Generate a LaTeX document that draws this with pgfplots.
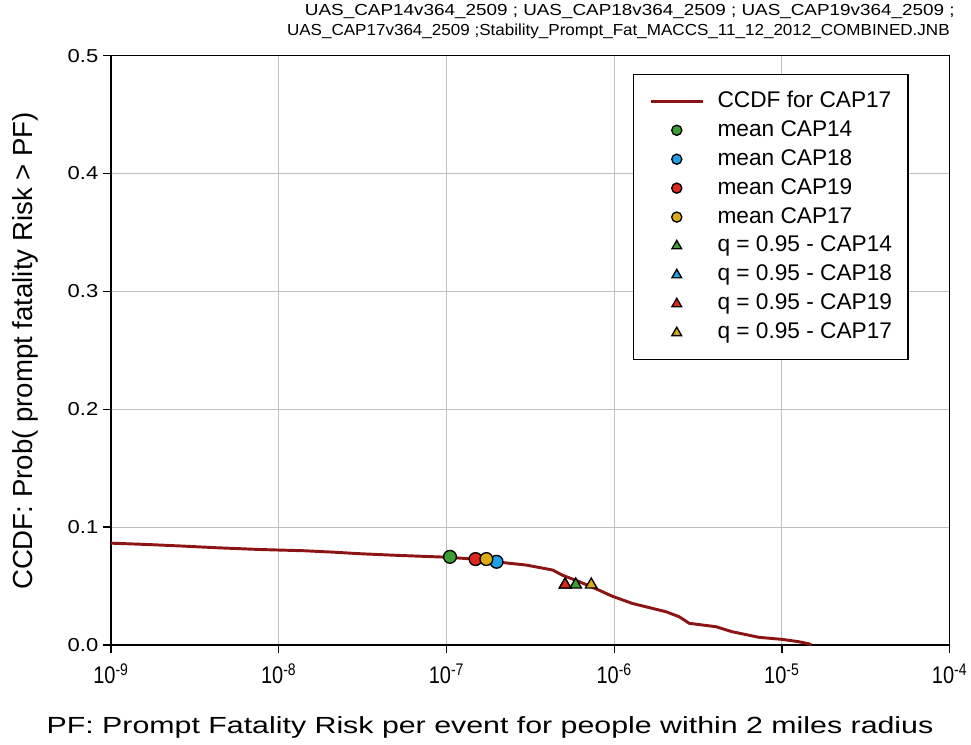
\documentclass[border=0pt]{standalone}
\usepackage{fontspec}
\setmainfont{Liberation Sans}
\usepackage{pgfplots}
\pgfplotsset{compat=1.18}
\definecolor{ccdf}{RGB}{140,20,20}
\definecolor{cgreen}{RGB}{60,160,50}
\definecolor{cblue}{RGB}{30,160,230}
\definecolor{cred}{RGB}{220,40,30}
\definecolor{cgold}{RGB}{220,170,20}
\begin{document}
\begin{tikzpicture}[x=0.75pt,y=0.75pt]
\begin{axis}[
  scale only axis,
  width=629pt, height=442pt,
  at={(0,0)}, anchor=south west,
  xmode=log,
  xmin=1e-9, xmax=1e-4,
  ymin=0, ymax=0.5,
  xtick={1e-9,1e-8,1e-7,1e-6,1e-5,1e-4},
  xticklabels={10\textsuperscript{-9},10\textsuperscript{-8},10\textsuperscript{-7},10\textsuperscript{-6},10\textsuperscript{-5},10\textsuperscript{-4}},
  xminorticks=false,
  ytick={0,0.1,0.2,0.3,0.4,0.5},
  yticklabel style={/pgf/number format/fixed,/pgf/number format/fixed zerofill,/pgf/number format/precision=1,
    font=\fontsize{16.5}{18}\selectfont, yscale=0.85},
  xticklabel style={font=\fontsize{15}{18}\selectfont, yscale=1.2, yshift=-3pt},
  /pgf/number format/assume math mode=true,
  tick align=outside, xtick pos=bottom, ytick pos=left,
  major tick length=6pt,
  grid=major,
  major grid style={gray!50, line width=0.7pt},
  axis line style={line width=1.2pt},
  every tick/.style={black, line width=1pt},
  legend style={at={(0.622,0.969)}, anchor=north west, draw=black, line width=1pt,
    font=\fontsize{17}{20}\selectfont, row sep=5.6pt, column sep=10pt,
    inner xsep=12pt, inner ysep=12pt,
    nodes={inner sep=0pt, text height=12.5pt, text depth=3.6pt}},
  legend cell align=left,
  legend image code/.code={\draw[mark repeat=2,mark phase=2,#1] plot coordinates {(0pt,0pt) (19.5pt,0pt) (39pt,0pt)};},
]
\addplot[ccdf, line width=2.2pt, mark=none] coordinates {
(1e-9,0.0864) (1.7e-9,0.0852) (2.8e-9,0.0838) (4.3e-9,0.0825) (7.8e-9,0.0810)
(1.4e-8,0.0800) (2.1e-8,0.0788) (3.0e-8,0.0775) (5.2e-8,0.0760) (1.0e-7,0.0745)
(1.5e-7,0.0728) (2.15e-7,0.0700) (3.0e-7,0.0678) (4.3e-7,0.0636) (4.9e-7,0.0593)
(6.2e-7,0.0537) (8.1e-7,0.0466) (9.7e-7,0.0415) (1.28e-6,0.0353) (2.04e-6,0.0282)
(2.44e-6,0.0240) (2.8e-6,0.0184) (4.05e-6,0.0155) (5.04e-6,0.0113) (7.3e-6,0.0065)
(1.0e-5,0.0048) (1.26e-5,0.0028) (1.45e-5,0.0010) (1.5e-5,0.0)};
\addlegendentry{CCDF for CAP17}
\addplot[only marks, mark=*, mark size=4.8pt, mark options={fill=cgreen, draw=black, line width=1pt}, legend image post style={mark size=3.8pt}] coordinates {(1.05e-7,0.0748)};
\addlegendentry{mean CAP14}
\addplot[only marks, mark=*, mark size=4.8pt, mark options={fill=cblue, draw=black, line width=1pt}, legend image post style={mark size=3.8pt}] coordinates {(1.99e-7,0.0706)};
\addlegendentry{mean CAP18}
\addplot[only marks, mark=*, mark size=4.8pt, mark options={fill=cred, draw=black, line width=1pt}, legend image post style={mark size=3.8pt}] coordinates {(1.49e-7,0.0729)};
\addlegendentry{mean CAP19}
\addplot[only marks, mark=*, mark size=4.8pt, mark options={fill=cgold, draw=black, line width=1pt}, legend image post style={mark size=3.8pt}] coordinates {(1.73e-7,0.0729)};
\addlegendentry{mean CAP17}
\addplot[only marks, mark=triangle*, mark size=5pt, mark options={fill=cgreen, draw=black, line width=1pt}, legend image post style={mark size=4.2pt}] coordinates {(5.9e-7,0.0512)};
\addlegendentry{q = 0.95 - CAP14}
\addplot[only marks, mark=triangle*, mark size=5pt, mark options={fill=cblue, draw=black, line width=1pt}, legend image post style={mark size=4.2pt}] coordinates {(5.1e-7,0.0512)};
\addlegendentry{q = 0.95 - CAP18}
\addplot[only marks, mark=triangle*, mark size=5pt, mark options={fill=cred, draw=black, line width=1pt}, legend image post style={mark size=4.2pt}] coordinates {(5.1e-7,0.0512)};
\addlegendentry{q = 0.95 - CAP19}
\addplot[only marks, mark=triangle*, mark size=5pt, mark options={fill=cgold, draw=black, line width=1pt}, legend image post style={mark size=4.2pt}] coordinates {(7.3e-7,0.0512)};
\addlegendentry{q = 0.95 - CAP17}
\end{axis}
% labels placed in pixel units relative to axis origin (x: px-111, y: 645-px)
\node[anchor=north east, font=\fontsize{12}{15}\selectfont, inner sep=0pt, xscale=1.18]
  at (844,641) {UAS\_CAP14v364\_2509 ; UAS\_CAP18v364\_2509 ; UAS\_CAP19v364\_2509 ;};
\node[anchor=north east, font=\fontsize{12}{15}\selectfont, inner sep=0pt, xscale=1.065]
  at (839,621) {UAS\_CAP17v364\_2509 ;Stability\_Prompt\_Fat\_MACCS\_11\_12\_2012\_COMBINED.JNB};
\node[rotate=90, font=\fontsize{20.7}{24}\selectfont] at (-86,294) {CCDF: Prob( prompt fatality Risk > PF)};
\node[font=\fontsize{17.5}{20}\selectfont, xscale=1.3] at (379,-82) {PF: Prompt Fatality Risk per event for people within 2 miles radius};
\pgfresetboundingbox
\path (-111,-99) rectangle (860,645);
\end{tikzpicture}
\end{document}
